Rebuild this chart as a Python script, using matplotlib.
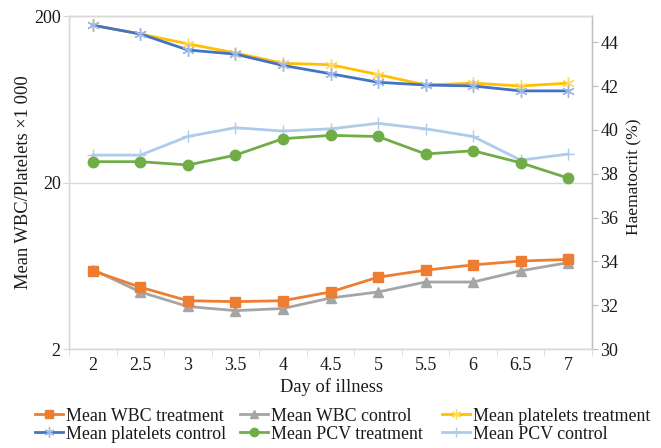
import matplotlib
matplotlib.use("Agg")
import matplotlib.pyplot as plt
from matplotlib.ticker import FixedLocator, NullLocator, FixedFormatter

plt.rcParams['font.family'] = ['Liberation Serif', 'DejaVu Serif']

days = [2, 2.5, 3, 3.5, 4, 4.5, 5, 5.5, 6, 6.5, 7]
day_labels = ["2", "2.5", "3", "3.5", "4", "4.5", "5", "5.5", "6", "6.5", "7"]
wbc_treatment = [5.9, 4.7, 3.9, 3.85, 3.9, 4.4, 5.4, 5.95, 6.4, 6.75, 6.9]
wbc_control = [6.0, 4.4, 3.6, 3.4, 3.5, 4.05, 4.4, 5.05, 5.05, 5.9, 6.6]
platelets_treatment = [176, 156, 136, 120, 104, 102, 89, 77, 79, 76, 79]
platelets_control = [176, 156, 125, 118, 101, 90, 80, 77, 76, 71, 71]
pcv_treatment = [38.55, 38.55, 38.4, 38.85, 39.6, 39.75, 39.7, 38.9, 39.05, 38.5, 37.8]
pcv_control = [38.85, 38.85, 39.7, 40.1, 39.95, 40.05, 40.3, 40.05, 39.7, 38.62, 38.9]
left_ticks = [2, 20, 200]
right_ticks = [30, 32, 34, 36, 38, 40, 42, 44]

W, H = 661, 448
fig = plt.figure(figsize=(W / 100, H / 100), dpi=100)
L, R, T, B = 69, 592, 16, 349
ax = fig.add_axes([L / W, 1 - B / H, (R - L) / W, (B - T) / H])
ax2 = ax.twinx()

txt = '#1a1a1a'
grid = '#D9D9D9'
fs_tick = 13
fs = 13.3
fs_leg = 12.9

# left axis
ax.set_yscale('log')
ax.set_ylim(2, 200)
ax.yaxis.set_major_locator(FixedLocator(left_ticks))
ax.yaxis.set_major_formatter(FixedFormatter([str(v) for v in left_ticks]))
ax.yaxis.set_minor_locator(NullLocator())
ax.set_xlim(1.75, 7.25)
ax.set_xticks(days)
ax.set_xticklabels(day_labels)
ax.set_xticks([1.75 + 0.5 * i for i in range(12)], minor=True)
ax.tick_params(axis='x', which='major', length=0, pad=6, labelsize=fs_tick, labelcolor=txt)
ax.tick_params(axis='x', which='minor', length=5, color=grid, direction='out')
ax.tick_params(axis='y', which='major', length=4, color=grid, pad=2, labelsize=fs_tick, labelcolor=txt)
ax.yaxis.grid(True, which='major', color=grid, lw=1)
ax.set_axisbelow(True)
for s in ax.spines.values():
    s.set_color(grid)
    s.set_linewidth(1)

# right axis
ax2.set_ylim(30, 45.2)
ax2.set_yticks(right_ticks)
ax2.tick_params(axis='y', length=4, color='#BFBFBF', pad=2, labelsize=fs_tick, labelcolor=txt)
for s in ax2.spines.values():
    s.set_color(grid)
    s.set_linewidth(1)
ax2.spines['right'].set_color('#BFBFBF')

ast = (6, 2, 0)
lw = 2.0
l_wt, = ax.plot(days, wbc_treatment, color='#ED7D31', lw=lw, marker='s', ms=6.5,
                mfc='#ED7D31', mec='#ED7D31', label='Mean WBC treatment', zorder=3)
l_wc, = ax.plot(days, wbc_control, color='#A5A5A5', lw=lw, marker='^', ms=6.5,
                mfc='#A5A5A5', mec='#A5A5A5', label='Mean WBC control', zorder=2)
l_pt, = ax.plot(days, platelets_treatment, color='#FFC000', lw=lw, marker=ast, ms=9,
                mec='#FFD966', mew=1.0, label='Mean platelets treatment', zorder=2)
l_pc, = ax.plot(days, platelets_control, color='#4472C4', lw=lw, marker=ast, ms=9,
                mec='#9DB7E6', mew=1.0, label='Mean platelets control', zorder=3)
l_vt, = ax2.plot(days, pcv_treatment, color='#70AD47', lw=lw, marker='o', ms=7.5,
                 mfc='#70AD47', mec='#70AD47', label='Mean PCV treatment', zorder=3)
l_vc, = ax2.plot(days, pcv_control, color='#AFCBEA', lw=lw, marker='+', ms=9,
                 mec='#AFCBEA', mew=1.0, label='Mean PCV control', zorder=2)

fig.text(24 / W, 1 - 182 / H, 'Mean WBC/Platelets ×1 000', rotation=90,
         ha='center', va='center', fontsize=fs, color=txt)
fig.text(634 / W, 1 - 177 / H, 'Haematocrit (%)', rotation=90,
         ha='center', va='center', fontsize=12.5, color=txt)
fig.text(332 / W, 1 - 387 / H, 'Day of illness', ha='center', va='center',
         fontsize=fs, color=txt)

entries = [(l_wt, 35, 416), (l_wc, 240, 416), (l_pt, 442, 416),
           (l_pc, 35, 434), (l_vt, 240, 434), (l_vc, 442, 434)]
for h, x0, y0 in entries:
    fig.legend(handles=[h], labels=[h.get_label()],
               loc='center left', bbox_to_anchor=(x0 / W, 1 - y0 / H),
               frameon=False, fontsize=fs_leg, borderpad=0, borderaxespad=0,
               handlelength=1.55, handletextpad=0.2,
               labelcolor=txt, markerscale=0.8)

fig.savefig('out.png', dpi=100)
